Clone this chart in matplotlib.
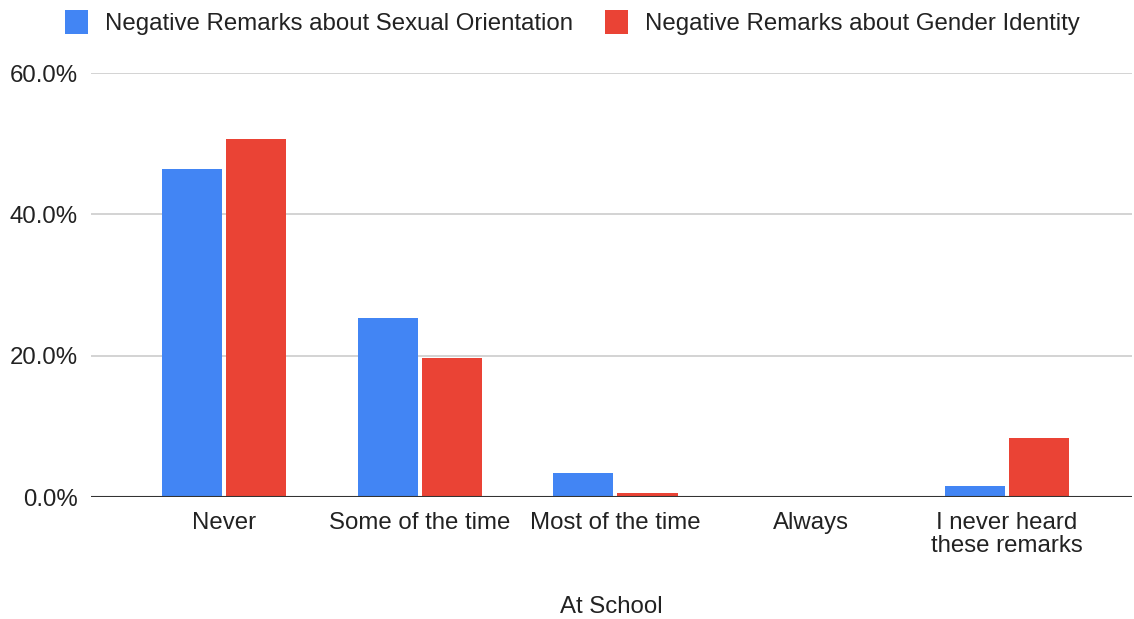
import matplotlib
matplotlib.use("Agg")
import matplotlib.pyplot as plt
from matplotlib.patches import Patch
from matplotlib.ticker import FuncFormatter, MultipleLocator
import numpy as np

plt.rcParams['font.family'] = ['Liberation Sans', 'DejaVu Sans']

categories = ["Never", "Some of the time", "Most of the time", "Always",
              "I never heard\nthese remarks"]
sexual_orientation = [46.4, 25.4, 3.4, 0.0, 1.5]
gender_identity = [50.7, 19.7, 0.6, 0.0, 8.3]
series_names = ["Negative Remarks about Sexual Orientation",
                "Negative Remarks about Gender Identity"]
colors = ["#4285F4", "#EA4335"]

FS = 17.3

fig = plt.figure(figsize=(11.34, 6.19), dpi=100)
ax = fig.add_axes([91 / 1134, 1 - 497 / 619, (1132 - 91) / 1134, (497 - 73) / 619])

x = np.arange(len(categories))
width = 0.307
offset = 0.164
ax.bar(x - offset, sexual_orientation, width, color=colors[0], zorder=3)
ax.bar(x + offset, gender_identity, width, color=colors[1], zorder=3)

ax.set_xlim(-0.68, len(categories) - 1 + 0.64)
ax.set_ylim(0, 60)
ax.yaxis.set_major_locator(MultipleLocator(20))
ax.yaxis.set_major_formatter(FuncFormatter(lambda v, p: f"{v:.1f}%"))
ax.grid(axis='y', color='#cccccc', linewidth=1.2, zorder=0)
ax.axhline(0, color='#333333', linewidth=1.5, zorder=4)

for s in ax.spines.values():
    s.set_visible(False)

ax.set_xticks(x)
ax.set_xticklabels(categories, linespacing=1.08)
ax.tick_params(axis='both', length=0, labelsize=FS, colors='#222222')
ax.tick_params(axis='y', pad=9.5)
ax.tick_params(axis='x', pad=10.5)

ax.set_xlabel("At School", fontsize=FS, color='#222222', labelpad=28)

handles = [Patch(facecolor=c, edgecolor='none') for c in colors]
fig.legend(handles, series_names, loc='upper left',
           bbox_to_anchor=(65 / 1134, 1 - 10 / 619), ncol=2, frameon=False,
           fontsize=FS, handlelength=0.95, handleheight=1.15,
           handletextpad=0.7, columnspacing=1.35, borderpad=0,
           borderaxespad=0, labelcolor='#222222')

fig.savefig("out.png", dpi=100, facecolor='white')
